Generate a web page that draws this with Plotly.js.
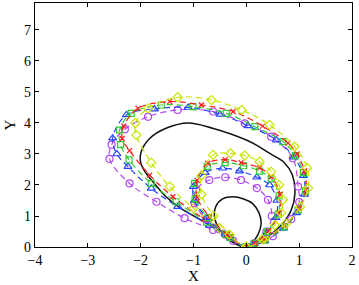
<!DOCTYPE html>
<html>
<head>
<meta charset="utf-8">
<script src="https://cdn.plot.ly/plotly-3.0.1.min.js"></script>
<style>
  html, body { margin: 0; padding: 0; background: #fff; }
  #chart { width: 359px; height: 285px; }
</style>
</head>
<body>
<div id="chart"></div>
<script>
// black solid loops
const blackSmallX = [0, -0.3, -0.5, -0.6, -0.58, -0.45, -0.25, -0.05, 0.12, 0.24, 0.28, 0.22, 0.1, 0];
const blackSmallY = [0, 0.2, 0.55, 0.95, 1.3, 1.55, 1.62, 1.55, 1.4, 1.1, 0.75, 0.4, 0.12, 0];
const blackMidX = [0, 0.31, 0.63, 0.85, 0.92, 0.87, 0.72, 0.46, 0.24, 0, -0.64, -1.1, -1.52, -1.83, -1.99, -2.0, -1.9, -1.74, -1.52, -1.26, -0.63, 0];
const blackMidY = [0, 0.23, 0.65, 1.19, 1.73, 2.33, 2.72, 3.0, 3.24, 3.45, 3.83, 4.0, 3.83, 3.5, 3.07, 2.72, 2.38, 2.05, 1.62, 1.27, 0.65, 0];

// outer dashed loops
const purpleOutX = [0, 0.5, 0.85, 1.0, 0.98, 0.88, 0.47, -0.03, -0.63, -1.3, -1.86, -2.3, -2.55, -2.59, -2.21, -1.7, -1.17, -0.63, -0.25, 0];
const purpleOutY = [0, 0.35, 0.9, 1.45, 1.95, 2.86, 3.56, 3.99, 4.37, 4.42, 4.2, 3.8, 3.3, 2.84, 2.05, 1.46, 0.93, 0.55, 0.2, 0];
const blueOutX = [0, 0.35, 0.7, 0.95, 1.1, 1.08, 0.9, 0.57, 0.03, -0.5, -1.1, -1.74, -2.27, -2.53, -2.45, -2.24, -1.8, -1.3, -0.7, -0.3, 0];
const blueOutY = [0, 0.2, 0.6, 1.1, 1.7, 2.3, 2.9, 3.45, 3.91, 4.28, 4.5, 4.45, 4.26, 3.51, 3.0, 2.59, 1.89, 1.3, 0.7, 0.28, 0];
const greenOutX = [0, 0.35, 0.72, 0.98, 1.12, 1.08, 0.93, 0.69, 0.16, -0.38, -1.01, -1.61, -2.18, -2.4, -2.38, -2.22, -1.8, -1.33, -0.75, -0.3, 0];
const greenOutY = [0, 0.22, 0.65, 1.2, 1.8, 2.4, 2.95, 3.4, 3.88, 4.31, 4.53, 4.58, 4.31, 3.77, 3.3, 2.81, 2.05, 1.46, 0.8, 0.3, 0];
const redOutX = [0, 0.35, 0.72, 1.0, 1.13, 1.1, 0.96, 0.79, 0.31, -0.25, -0.85, -1.45, -2.05, -2.32, -2.35, -2.21, -1.83, -1.39, -0.8, -0.3, 0];
const redOutY = [0, 0.25, 0.7, 1.25, 1.85, 2.45, 3.0, 3.35, 3.9, 4.37, 4.58, 4.69, 4.47, 3.9, 3.5, 3.11, 2.32, 1.62, 0.9, 0.32, 0];
const yellowOutX = [0, 0.35, 0.75, 1.02, 1.17, 1.15, 0.91, 0.44, -0.09, -0.66, -1.3, -1.86, -2.1, -2.08, -1.8, -1.45, -1.0, -0.5, 0];
const yellowOutY = [0, 0.28, 0.75, 1.3, 1.9, 2.55, 3.24, 3.94, 4.42, 4.74, 4.83, 4.47, 4.0, 3.61, 2.72, 1.95, 1.25, 0.6, 0];

// inner dashed loops
const purpleInX = [0, -0.4, -0.75, -0.98, -0.95, -0.7, -0.4, -0.1, 0.2, 0.41, 0.48, 0.38, 0.15, 0];
const purpleInY = [0, 0.4, 0.9, 1.41, 1.85, 2.16, 2.25, 2.16, 1.9, 1.52, 1.0, 0.5, 0.12, 0];
const blueInX = [0, -0.4, -0.75, -0.98, -1.0, -0.78, -0.45, -0.13, 0.2, 0.44, 0.58, 0.56, 0.38, 0.15, 0];
const blueInY = [0, 0.42, 0.95, 1.5, 1.95, 2.4, 2.54, 2.45, 2.25, 2.0, 1.5, 0.95, 0.45, 0.1, 0];
const greenInX = [0, -0.38, -0.72, -0.97, -0.98, -0.74, -0.4, -0.05, 0.25, 0.47, 0.62, 0.6, 0.4, 0.15, 0];
const greenInY = [0, 0.4, 0.95, 1.55, 2.05, 2.6, 2.72, 2.62, 2.45, 2.2, 1.65, 1.05, 0.5, 0.12, 0];
const redInX = [0, -0.36, -0.7, -0.93, -0.93, -0.73, -0.4, -0.1, 0.25, 0.47, 0.64, 0.62, 0.42, 0.16, 0];
const redInY = [0, 0.4, 0.98, 1.6, 2.15, 2.7, 2.82, 2.72, 2.55, 2.27, 1.7, 1.1, 0.52, 0.12, 0];
const yellowInX = [0, -0.32, -0.62, -0.85, -0.85, -0.63, -0.3, -0.03, 0.25, 0.47, 0.62, 0.69, 0.66, 0.54, 0.3, 0];
const yellowInY = [0, 0.4, 1.0, 1.7, 2.3, 2.97, 3.02, 2.95, 2.75, 2.43, 2.0, 1.52, 1.1, 0.71, 0.25, 0];

function solid(x, y) {
    return { x: x, y: y, mode: 'lines', type: 'scatter',
        line: { color: '#111111', width: 1.5, shape: 'spline', smoothing: 1 } };
}

function dashed(x, y, color, symbol, size) {
    return { x: x, y: y, mode: 'lines+markers', type: 'scatter',
        line: { color: color, width: 1.2, dash: '6px,4px', shape: 'spline', smoothing: 1 },
        marker: { symbol: symbol, size: size, color: color, line: { color: color, width: 1.2 } } };
}

const colors = { purple: '#b048f0', blue: '#2244ff', green: '#33cc33', red: '#ff1a1a', yellow: '#c8e600' };

const data = [
    solid(blackSmallX, blackSmallY),
    solid(blackMidX, blackMidY),
    dashed(purpleOutX, purpleOutY, colors.purple, 'circle-open', 7),
    dashed(blueOutX, blueOutY, colors.blue, 'triangle-up-open', 7),
    dashed(greenOutX, greenOutY, colors.green, 'square-open', 6),
    dashed(redOutX, redOutY, colors.red, 'x-thin-open', 5),
    dashed(yellowOutX, yellowOutY, colors.yellow, 'diamond-open', 7),
    dashed(purpleInX, purpleInY, colors.purple, 'circle-open', 7),
    dashed(blueInX, blueInY, colors.blue, 'triangle-up-open', 7),
    dashed(greenInX, greenInY, colors.green, 'square-open', 6),
    dashed(redInX, redInY, colors.red, 'x-thin-open', 5),
    dashed(yellowInX, yellowInY, colors.yellow, 'diamond-open', 7)
];

const axisStyle = {
    showline: true, mirror: 'ticks', linecolor: '#000', linewidth: 1.2,
    ticks: 'inside', ticklen: 4, tickcolor: '#000', showgrid: false, zeroline: false,
    tickfont: { family: 'Liberation Serif', size: 14, color: '#000' }
};

const layout = {
    width: 359, height: 285,
    margin: { l: 35, r: 7, t: 3, b: 38 },
    showlegend: false,
    paper_bgcolor: '#fff', plot_bgcolor: '#fff',
    xaxis: Object.assign({}, axisStyle, { range: [-4, 2], dtick: 1,
        title: { text: 'X', font: { family: 'Liberation Serif', size: 15, color: '#000' }, standoff: 2 } }),
    yaxis: Object.assign({}, axisStyle, { range: [0, 7.87], dtick: 1,
        title: { text: 'Y', font: { family: 'Liberation Serif', size: 15, color: '#000' }, standoff: 4 } })
};

Plotly.newPlot('chart', data, layout, { staticPlot: true });
</script>
</body>
</html>
